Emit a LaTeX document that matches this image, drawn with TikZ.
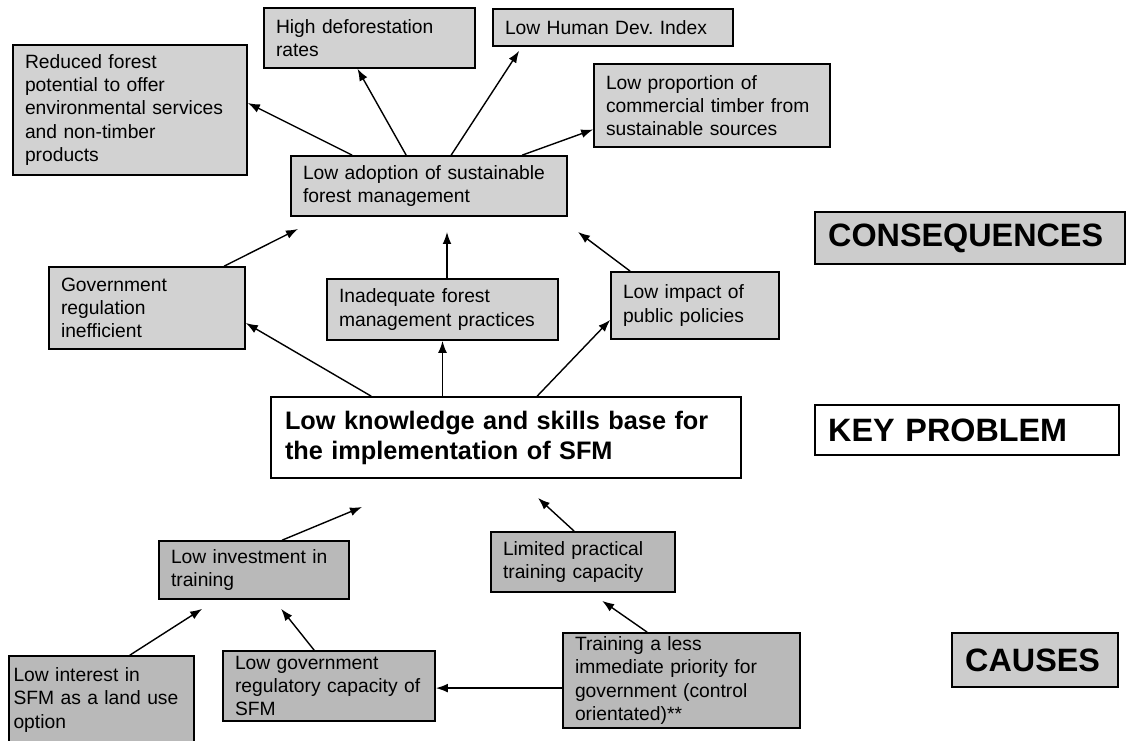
\documentclass[tikz,border=0pt]{standalone}
\usepackage{fontspec}
\setmainfont{Liberation Sans}
\usepackage{xcolor}
\usepackage{tikz}
\usetikzlibrary{calc}
\usetikzlibrary{shapes,arrows,arrows.meta,positioning}

\begin{document}
\begin{tikzpicture}[transform shape,scale=1,
	cons/.style={draw,line width=1.2pt,fill=gray!35,align=left,inner xsep=0.3cm,inner ysep=0pt,font=\fontsize{13.7}{16.5}\selectfont},
	cause/.style={cons,fill=gray!55},
	tag/.style={draw,line width=1.2pt,fill=gray!40,align=left,inner xsep=0.33cm,inner ysep=0pt,font=\fontsize{23}{27}\selectfont\bfseries},
	arr/.style={-{Latex[length=3mm,width=2.2mm]},line width=1pt}]
	\useasboundingbox (0,0) rectangle (28.15,18.5);
	% consequences
	\node[cons,text width=5.25cm,minimum height=3.25cm] (reduced) at (3.25,15.75) {Reduced forest\\potential to offer\\environmental services\\and non-timber\\products};
	\node[cons,text width=4.675cm,minimum height=1.5cm] (deforest) at (9.2375,17.55) {High deforestation\\rates};
	\node[cons,text width=5.4cm,minimum height=0.925cm] (hdi) at (15.325,17.8125) {Low Human Dev.\ Index};
	\node[cons,text width=5.3cm,minimum height=2.075cm] (proportion) at (17.8,15.8625) {Low proportion of\\commercial timber from\\sustainable sources};
	\node[cons,text width=6.3cm,minimum height=1.5cm] (adoption) at (10.725,13.85) {Low adoption of sustainable\\forest management};
	\node[cons,text width=4.3cm,minimum height=2.05cm] (govreg) at (3.675,10.8) {Government\\regulation\\inefficient};
	\node[cons,text width=5.175cm,minimum height=1.525cm] (practices) at (11.0625,10.7625) {Inadequate forest\\management practices};
	\node[cons,text width=3.6cm,minimum height=1.675cm] (impact) at (17.375,10.8625) {Low impact of\\public policies};
	% key problem
	\node[draw,line width=1.2pt,fill=white,align=left,inner xsep=0.35cm,inner ysep=0pt,text width=11.05cm,minimum height=2.025cm,font=\fontsize{18}{21.3}\selectfont\bfseries] (key) at (12.65,7.5625) {Low knowledge and skills base for\\the implementation of SFM};
	% causes
	\node[cause,text width=4.15cm,minimum height=1.45cm] (invest) at (6.35,4.25) {Low investment in\\training};
	\node[cause,inner xsep=0.12cm,text width=4.4cm,minimum height=2.2cm] (interest) at (2.5375,1.0) {Low interest in\\SFM as a land use\\option};
	\node[cause,text width=4.7cm,minimum height=1.75cm] (lowgov) at (8.225,1.35) {Low government\\regulatory capacity of\\SFM};
	\node[cause,text width=4.0cm,minimum height=1.5cm] (limited) at (14.575,4.45) {Limited practical\\training capacity};
	\node[cause,text width=5.325cm,minimum height=2.375cm] (priority) at (17.0375,1.4875) {Training a less\\immediate priority for\\government (control\\orientated)**};
	% headings
	\node[tag,text width=7.09cm,minimum height=1.3cm] (tcons) at (24.25,12.55) {CONSEQUENCES};
	\node[tag,fill=white,text width=6.94cm,minimum height=1.25cm] (tkey) at (24.175,7.75) {KEY PROBLEM};
	\node[tag,text width=3.49cm,minimum height=1.35cm] (tcauses) at (25.875,2.0) {CAUSES};
	% free arrow ends
	\coordinate (govtip) at (7.45,12.775);
	\coordinate (practip) at (11.175,12.7);
	\coordinate (imptip) at (14.45,12.7);
	\coordinate (investtip) at (9.05,5.825);
	\coordinate (limittip) at (13.45,6.05);
	% arrows
	\draw[arr] ([xshift=1.55cm]adoption.north west) -- ([yshift=0.175cm]reduced.east);
	\draw[arr] ([xshift=2.9cm]adoption.north west) -- ([xshift=-0.3cm]deforest.south);
	\draw[arr] ([xshift=4.025cm]adoption.north west) -- ([xshift=0.675cm,yshift=-0.1cm]hdi.south west);
	\draw[arr] ([xshift=5.8cm]adoption.north west) -- ([yshift=-0.6cm]proportion.west);
	\draw[arr] ([xshift=4.4cm]govreg.north west) -- (govtip);
	\draw[arr] (practip |- practices.north) -- (practip);
	\draw[arr] ([xshift=0.5cm]impact.north west) -- (imptip);
	\draw[arr] ([xshift=2.525cm]key.north west) -- ([yshift=-0.375cm]govreg.east);
	\draw[arr] (practices.south |- key.north) -- (practices.south);
	\draw[arr] ([xshift=6.675cm]key.north west) -- ([yshift=-0.36cm]impact.west);
	\draw[arr] ([xshift=3.1cm]invest.north west) -- (investtip);
	\draw[arr] ([xshift=2.1cm]limited.north west) -- (limittip);
	\draw[arr] ([xshift=3.05cm]interest.north west) -- ([xshift=1.1cm,yshift=-0.225cm]invest.south west);
	\draw[arr] ([xshift=2.3cm]lowgov.north west) -- ([xshift=3.075cm,yshift=-0.225cm]invest.south west);
	\draw[arr] ([xshift=2.125cm]priority.north west) -- ([xshift=2.8cm,yshift=-0.2cm]limited.south west);
	\draw[arr] ([yshift=-0.19cm]priority.west) -- ([yshift=-0.19cm]priority.west -| lowgov.east);
\end{tikzpicture}
\end{document}
